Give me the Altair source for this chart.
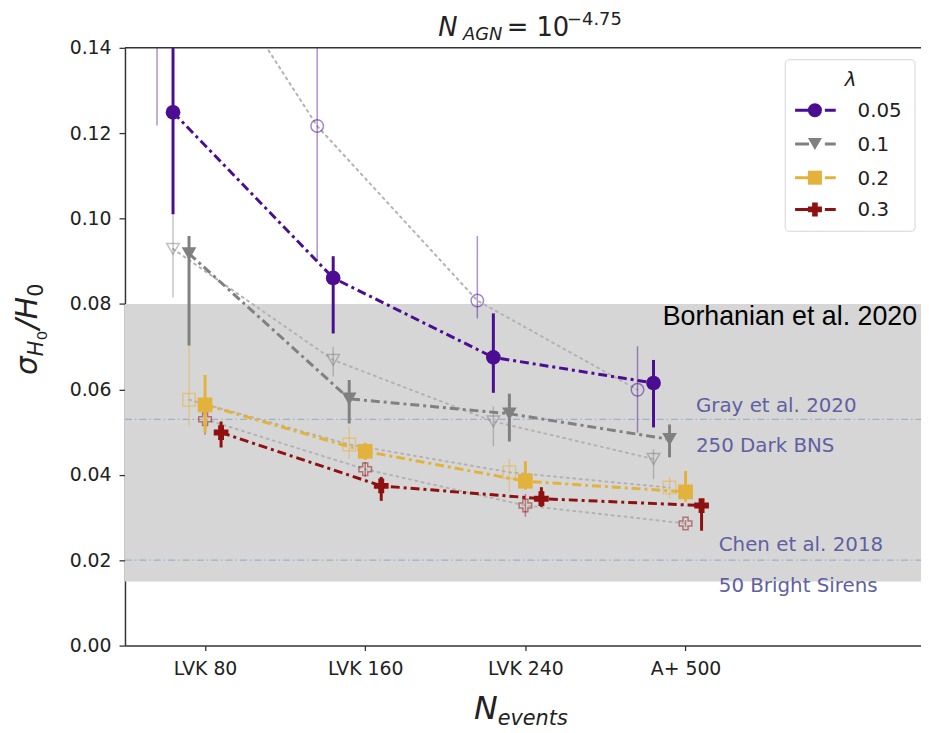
import json
import altair as alt
import pandas as pd

# ---------------- data ----------------
categories = ["LVK 80", "LVK 160", "LVK 240", "A+ 500"]
lambdas = ["0.05", "0.1", "0.2", "0.3"]
colors = ["#4b0d91", "#808080", "#e3b23c", "#8f1010"]
shapes = ["circle", "triangle-down", "square", "cross"]

# filled markers (dash-dot lines)
solid_val = {
    "0.05": [0.1249, 0.0861, 0.0675, 0.0615],
    "0.1": [0.0918, 0.0578, 0.0543, 0.0483],
    "0.2": [0.0564, 0.0455, 0.0385, 0.0360],
    "0.3": [0.0499, 0.0374, 0.0344, 0.0328],
}
solid_lo = {
    "0.05": [0.1010, 0.0731, 0.0592, 0.0511],
    "0.1": [0.0703, 0.0520, 0.0478, 0.0441],
    "0.2": [0.0499, 0.0435, 0.0365, 0.0337],
    "0.3": [0.0464, 0.0339, 0.0325, 0.0269],
}
solid_hi = {
    "0.05": [0.1500, 0.0912, 0.0778, 0.0669],
    "0.1": [0.0959, 0.0622, 0.0590, 0.0518],
    "0.2": [0.0634, 0.0475, 0.0432, 0.0409],
    "0.3": [0.0525, 0.0395, 0.0371, 0.0339],
}
# open markers (dotted lines)
open_val = {
    "0.05": [0.1800, 0.1217, 0.0808, 0.0599],
    "0.1": [0.0929, 0.0669, 0.0525, 0.0437],
    "0.2": [0.0576, 0.0471, 0.0406, 0.0370],
    "0.3": [0.0530, 0.0413, 0.0328, 0.0286],
}
open_lo = {
    "0.05": [0.1218, 0.0901, 0.0766, 0.0499],
    "0.1": [0.0815, 0.0630, 0.0467, 0.0390],
    "0.2": [0.0513, 0.0437, 0.0360, 0.0345],
    "0.3": [0.0494, 0.0395, 0.0302, 0.0278],
}
open_hi = {
    "0.05": [0.2000, 0.1600, 0.0959, 0.0701],
    "0.1": [0.1010, 0.0700, 0.0560, 0.0460],
    "0.2": [0.0703, 0.0513, 0.0437, 0.0395],
    "0.3": [0.0546, 0.0430, 0.0355, 0.0294],
}
band = [0.015, 0.08]
ref_lines = [0.053, 0.02]
y_ticks = [0.0, 0.02, 0.04, 0.06, 0.08, 0.10, 0.12, 0.14]

# ---------------- layout ----------------
W, H = 803, 603
dodge_solid = [-0.2, -0.1, 0.0, 0.1]
dodge_open = [-0.3, -0.2, -0.1, 0.0]

rows = []
for i, lam in enumerate(lambdas):
    for c in range(len(categories)):
        rows.append(dict(lam=lam, kind="solid", x=c + dodge_solid[i],
                         v=solid_val[lam][c], lo=solid_lo[lam][c], hi=solid_hi[lam][c]))
        rows.append(dict(lam=lam, kind="open", x=c + dodge_open[i],
                         v=open_val[lam][c], lo=open_lo[lam][c], hi=open_hi[lam][c]))
df = pd.DataFrame(rows)
one = pd.DataFrame({"t": [""]})

label_expr = json.dumps(categories) + "[datum.value]"
xs = alt.Scale(domain=[-0.5, 4.47], nice=False, zero=False)
ys = alt.Scale(domain=[0, 0.14], nice=False, zero=True)
xaxis = alt.Axis(values=[0, 1, 2, 3], labelExpr=label_expr, title=None, labelPadding=9)
yaxis = alt.Axis(values=y_ticks, format=".2f", title=None, labelPadding=8, tickSize=6)

col = alt.Color("lam:N", scale=alt.Scale(domain=lambdas, range=colors), legend=None)
shp = alt.Shape("lam:N", scale=alt.Scale(domain=lambdas, range=shapes), legend=None)

base = alt.Chart(df).encode(
    x=alt.X("x:Q", scale=xs, axis=xaxis),
    y=alt.Y("v:Q", scale=ys, axis=yaxis),
)
opn = base.transform_filter(alt.datum.kind == "open")
sol = base.transform_filter(alt.datum.kind == "solid")

band_layer = alt.Chart(one).mark_rect(color="#d6d6d6").encode(
    x=alt.value(0), x2=alt.value(W), y=alt.datum(band[0]), y2=alt.datum(band[1]))
ref_layer = alt.Chart(pd.DataFrame({"r": ref_lines})).mark_rule(
    color="#9fb0c9", strokeWidth=1.3, strokeDash=[7, 3, 1.5, 3]).encode(
    x=alt.value(0), x2=alt.value(W), y=alt.Y("r:Q", scale=ys))

open_line = opn.mark_line(color="#b3b3b3", strokeWidth=2, strokeDash=[2, 4.5],
                          strokeCap="round", clip=True).encode(detail="lam:N")
open_err = opn.mark_rule(strokeWidth=1.5, opacity=0.45, clip=True).encode(
    y=alt.Y("lo:Q", scale=ys), y2="hi:Q", color=col)
open_pts = opn.mark_point(filled=False, size=160, strokeWidth=1.5, opacity=0.5,
                          clip=True).encode(color=col, shape=shp)

solid_line = sol.mark_line(strokeWidth=3, strokeDash=[9, 4, 3, 4], clip=True).encode(
    color=col, detail="lam:N")
solid_err = sol.mark_rule(strokeWidth=3, clip=True).encode(
    y=alt.Y("lo:Q", scale=ys), y2="hi:Q", color=col)
solid_pts = sol.mark_point(filled=True, size=220, opacity=1, clip=True).encode(
    color=col, shape=shp)

top_spine = alt.Chart(one).mark_rule(color="#333333", strokeWidth=1.5).encode(
    x=alt.value(0), x2=alt.value(W), y=alt.value(0))


def txt(s, x, y, size, color="#222222", font="DejaVu Sans", style="normal",
        align="left", angle=0, opacity=1.0):
    kw = dict(text=s, fontSize=size, color=color, font=font, fontStyle=style,
              align=align, baseline="alphabetic", opacity=opacity)
    if angle:
        kw["angle"] = angle
    return alt.Chart(one).mark_text(**kw).encode(x=alt.value(x), y=alt.value(y))


annot_color = "#6060a2"
texts = [
    txt("Borhanian et al. 2020", 799, 280, 27, color="#000000",
        font="Liberation Sans", align="right"),
    txt("Gray et al. 2020", 576, 367, 20, color=annot_color),
    txt("250 Dark BNS", 576, 408, 20, color=annot_color),
    txt("Chen et al. 2018", 599, 508, 20, color=annot_color),
    txt("50 Bright Sirens", 599, 549, 20, color=annot_color),
    # title  N_AGN = 10^-4.75
    txt("N", 316, -12, 26, style="italic"),
    txt("AGN", 341, -8, 18, style="italic"),
    txt("= 10", 385, -12, 26),
    txt("\u22124.75", 446, -23, 18),
    # x title  N_events
    txt("N", 352, 677, 32, style="italic"),
    txt("events", 376, 683, 21, style="italic"),
    # y title  sigma_{H0}/H0 (rotated)
    txt("\u03c3", -89, 330, 30, style="italic", angle=270),
    txt("H", -83, 311, 21, style="italic", angle=270),
    txt("0", -79, 295, 15, angle=270),
    txt("/H", -89, 284, 30, style="italic", angle=270),
    txt("0", -83, 251, 21, angle=270),
]

# legend (drawn by hand so that each entry shows line + marker)
legend = [
    alt.Chart(one).mark_rect(fill="white", stroke="#d0d0d0", strokeWidth=1,
                             cornerRadius=4, opacity=0.9).encode(
        x=alt.value(666), x2=alt.value(797), y=alt.value(12), y2=alt.value(185)),
    txt("\u03bb", 732, 39, 20, style="italic", align="center"),
]
leg_y = [63, 97, 131, 163]
for i, lam in enumerate(lambdas):
    legend.append(alt.Chart(one).mark_rule(color=colors[i], strokeWidth=3,
                                           strokeDash=[14, 16, 11, 200]).encode(
        x=alt.value(676), x2=alt.value(721), y=alt.value(leg_y[i])))
    legend.append(alt.Chart(one).mark_point(filled=True, size=200, color=colors[i],
                                            shape=shapes[i], opacity=1).encode(
        x=alt.value(696), y=alt.value(leg_y[i])))
    legend.append(txt(lam, 739, leg_y[i] + 7, 20))

chart = alt.layer(
    band_layer, ref_layer,
    open_line, open_err, open_pts,
    solid_line, solid_err, solid_pts,
    top_spine, *texts, *legend,
).properties(
    width=W, height=H,
    autosize=alt.AutoSizeParams(type="none"),
    padding={"left": 118, "top": 37, "right": 0, "bottom": 85},
).configure_view(stroke=None).configure_axis(
    grid=False, domainColor="#333333", domainWidth=1.5, tickColor="#333333",
    tickWidth=1.3, tickSize=5, labelFont="DejaVu Sans", labelFontSize=19,
    labelColor="#222222",
)

chart.save("out.html", embed_options={"renderer": "svg", "actions": False})
